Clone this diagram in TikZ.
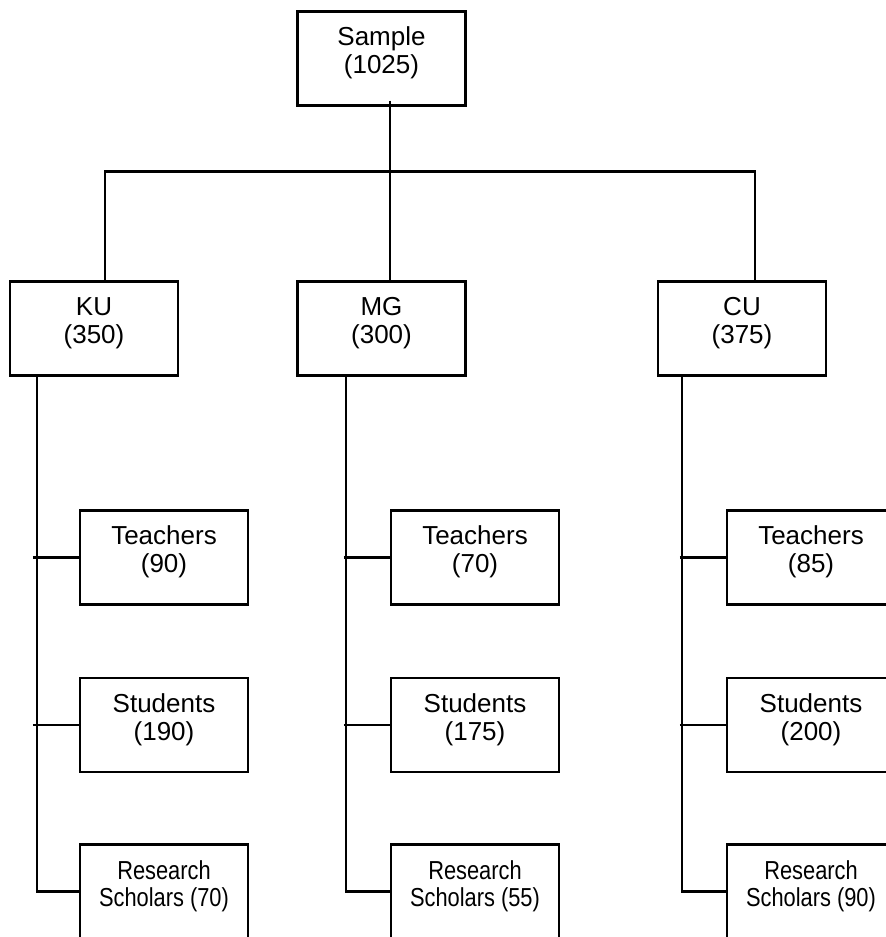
\documentclass[tikz,border=0pt]{standalone}
\usepackage{fontspec}
\setmainfont{Liberation Sans}
\newfontfamily\narrowfont[FakeStretch=0.84]{Liberation Sans}
\usetikzlibrary{calc}

\begin{document}
\begin{tikzpicture}[x=0.75pt, y=-0.75pt, line width=2.2pt,
  box/.style={draw, line width=1.6pt, rectangle, inner sep=0pt,
    minimum width=126pt, minimum height=70.5pt, align=center,
    text depth=12pt, font=\fontsize{19.5}{21}\selectfont},
  rsbox/.style={box, font=\narrowfont\fontsize{19.5}{20}\selectfont}]
  \useasboundingbox (0,0) rectangle (885,937);
  % top and the three universities
  \node[box] (sample) at (381.5,58.5) {Sample\\(1025)};
  \node[box] (ku) at (94,328.5) {KU\\(350)};
  \node[box] (mg) at (381.5,328.5) {MG\\(300)};
  \node[box] (cu) at (742,328.5) {CU\\(375)};
  % KU
  \node[box] (kut) at (164,557.5) {Teachers\\(90)};
  \node[box] (kus) at (164,725) {Students\\(190)};
  \node[rsbox] (kur) at (164,891.5) {Research\\Scholars (70)};
  % MG
  \node[box] (mgt) at (475,557.5) {Teachers\\(70)};
  \node[box] (mgs) at (475,725) {Students\\(175)};
  \node[rsbox] (mgr) at (475,891.5) {Research\\Scholars (55)};
  % CU
  \node[box] (cut) at (811,557.5) {Teachers\\(85)};
  \node[box] (cus) at (811,725) {Students\\(200)};
  \node[rsbox] (cur) at (811,891.5) {Research\\Scholars (90)};
  % sample -> universities
  \draw ($(sample.south)+(8.5,-6)$) -- ($(mg.north)+(8.5,0)$);
  \draw ($(ku.north)+(11,0)$) |- ($(cu.north)+(13,-109)$) -- ($(cu.north)+(13,0)$);
  % spines
  \draw ($(ku.south)+(-57,-2)$) |- (kur.west);
  \draw ($(kut.west)+(-46,0)$) -- (kut.west);
  \draw ($(kus.west)+(-46,0)$) -- (kus.west);
  \draw ($(mg.south)+(-35.5,-2)$) |- (mgr.west);
  \draw ($(mgt.west)+(-46,0)$) -- (mgt.west);
  \draw ($(mgs.west)+(-46,0)$) -- (mgs.west);
  \draw ($(cu.south)+(-60,-2)$) |- (cur.west);
  \draw ($(cut.west)+(-46,0)$) -- (cut.west);
  \draw ($(cus.west)+(-46,0)$) -- (cus.west);
\end{tikzpicture}
\end{document}
